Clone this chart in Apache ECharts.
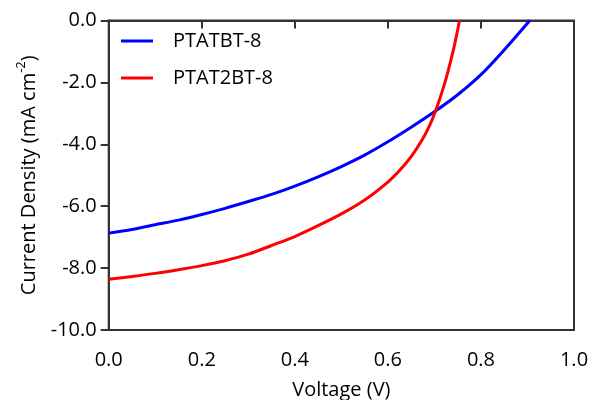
<!DOCTYPE html>
<html>
<head>
<meta charset="utf-8">
<script src="https://cdn.jsdelivr.net/npm/echarts@6/dist/echarts.min.js"></script>
<style>html,body{margin:0;padding:0;background:#fff}#c{width:592px;height:400px}</style>
</head>
<body>
<div id="c"></div>
<script>
var seriesNames = ['PTATBT-8', 'PTAT2BT-8'];
var blueV = [0, 0.05, 0.1, 0.15, 0.2, 0.25, 0.3, 0.35, 0.4, 0.45, 0.5, 0.55, 0.6, 0.65, 0.7, 0.75, 0.8, 0.85, 0.905];
var blueJ = [-6.87, -6.75, -6.60, -6.45, -6.27, -6.07, -5.85, -5.62, -5.35, -5.05, -4.72, -4.35, -3.92, -3.45, -2.95, -2.40, -1.75, -0.95, 0];
var redV = [0, 0.05, 0.1, 0.15, 0.2, 0.25, 0.3, 0.35, 0.4, 0.45, 0.5, 0.55, 0.6, 0.625, 0.65, 0.675, 0.69, 0.70, 0.71, 0.72, 0.73, 0.74, 0.75, 0.754];
var redJ = [-8.36, -8.27, -8.17, -8.05, -7.92, -7.76, -7.55, -7.27, -6.98, -6.63, -6.25, -5.80, -5.22, -4.85, -4.40, -3.82, -3.38, -3.02, -2.60, -2.13, -1.60, -1.00, -0.30, 0];
var xTicks = {min: 0, max: 1, interval: 0.2};
var yTicks = {min: -10, max: 0, interval: 2};

function pairs(xs, ys) { return xs.map(function (x, i) { return [x, ys[i]]; }); }

var font = 'Open Sans';
var chart = echarts.init(document.getElementById('c'), null, {renderer: 'canvas'});
chart.setOption({
  animation: false,
  backgroundColor: '#fff',
  grid: {left: 108.7, right: 18, top: 20.5, bottom: 70, containLabel: false, outerBoundsMode: 'none',
         show: true, borderColor: '#333', borderWidth: 2, backgroundColor: 'transparent'},
  legend: {
    orient: 'vertical', left: 121, top: 31, padding: 0, itemGap: 17,
    icon: 'rect', itemWidth: 32, itemHeight: 3,
    textStyle: {fontFamily: font, fontSize: 20, color: '#000', padding: [0, 0, 0, 15]},
    data: seriesNames
  },
  xAxis: {
    type: 'value', min: xTicks.min, max: xTicks.max, interval: xTicks.interval,
    name: 'Voltage (V)', nameLocation: 'middle', nameGap: 50,
    nameTextStyle: {fontFamily: font, fontSize: 20, color: '#000'},
    axisLine: {lineStyle: {color: '#333', width: 2}},
    axisTick: {show: true, inside: false, length: 8, lineStyle: {color: '#333', width: 2}},
    axisLabel: {fontFamily: font, fontSize: 20, color: '#000', margin: 20, formatter: function (v) { return v.toFixed(1); }},
    splitLine: {show: false}
  },
  yAxis: {
    type: 'value', min: yTicks.min, max: yTicks.max, interval: yTicks.interval,
    name: '{a|Current Density (mA cm}{b|-2}{a|)}', nameLocation: 'middle', nameGap: 63, nameRotate: 90,
    nameTextStyle: {fontFamily: font, fontSize: 20, color: '#000',
      rich: {a: {fontFamily: font, fontSize: 20, color: '#000', lineHeight: 28},
             b: {fontFamily: font, fontSize: 13, color: '#000', verticalAlign: 'top', lineHeight: 28, padding: [0, 0, 12, 0]}}},
    axisLine: {show: true, lineStyle: {color: '#333', width: 2}},
    axisTick: {show: true, inside: false, length: 8, lineStyle: {color: '#333', width: 2}},
    axisLabel: {fontFamily: font, fontSize: 20, color: '#000', margin: 12, formatter: function (v) { return v.toFixed(1); }},
    splitLine: {show: false}
  },
  series: [
    {name: seriesNames[0], type: 'line', data: pairs(blueV, blueJ), smooth: 0.3, showSymbol: false, symbol: 'none',
     itemStyle: {color: '#0000ff'}, lineStyle: {color: '#0000ff', width: 3}},
    {name: seriesNames[1], type: 'line', data: pairs(redV, redJ), smooth: 0.3, showSymbol: false, symbol: 'none',
     itemStyle: {color: '#ff0000'}, lineStyle: {color: '#ff0000', width: 3}}
  ]
});
</script>
</body>
</html>
